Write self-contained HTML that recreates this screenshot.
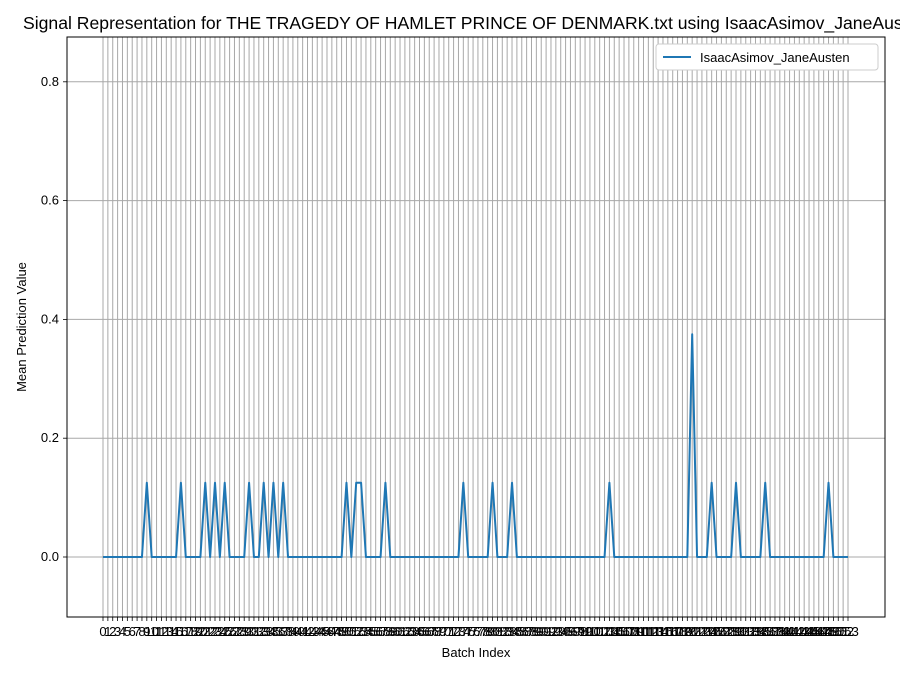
<!DOCTYPE html>
<html><head><meta charset="utf-8"><style>body{margin:0;background:#fff;overflow:hidden}svg{display:block;font-family:"Liberation Sans","DejaVu Sans",sans-serif}</style></head>
<body>
<svg id="chart" width="900" height="675" xmlns="http://www.w3.org/2000/svg">
<text x="23" y="29" font-size="17.6">Signal Representation for THE TRAGEDY OF HAMLET PRINCE OF DENMARK.txt using IsaacAsimov_JaneAusten</text>
<g id="grid"></g><g id="ticks"></g>
<g id="series"></g>
<rect x="67" y="37" width="818" height="580" fill="none" stroke="#000" stroke-width="1"/>
<text x="476" y="657" text-anchor="middle" font-size="13">Batch Index</text>
<text transform="translate(26,327) rotate(-90)" text-anchor="middle" font-size="13">Mean Prediction Value</text>
<g>
<rect x="656" y="44" width="222" height="26" rx="3" fill="#fff" stroke="#ccc"/>
<line x1="663" y1="57" x2="691" y2="57" stroke="#1f77b4" stroke-width="2"/>
<text x="700" y="62" font-size="13">IsaacAsimov_JaneAusten</text>
</g>
</svg>
<script>
const nPoints = 154;
const peakIdx = [9,16,21,23,25,30,33,35,37,50,52,53,58,74,80,84,104,121,125,130,136,149];
const peakVal = [0.125,0.125,0.125,0.125,0.125,0.125,0.125,0.125,0.125,0.125,0.125,0.125,0.125,0.125,0.125,0.125,0.125,0.375,0.125,0.125,0.125,0.125];
const yTicks = [0.0,0.2,0.4,0.6,0.8];
const yTickLabels = ["0.0","0.2","0.4","0.6","0.8"];
const values = new Array(nPoints).fill(0);
peakIdx.forEach((k,i)=>values[k]=peakVal[i]);
const NS="http://www.w3.org/2000/svg";
const x = i => 103 + i*(848-103)/(nPoints-1);
const y = v => 557 - v*594;
const grid=document.getElementById('grid'), ticks=document.getElementById('ticks'), series=document.getElementById('series');
function mk(tag,attrs,parent){const e=document.createElementNS(NS,tag);for(const k in attrs)e.setAttribute(k,attrs[k]);parent.appendChild(e);return e;}
for(let i=0;i<nPoints;i++){
  const g=mk('line',{x1:x(i),x2:x(i),y1:37,y2:617,stroke:'#a8a8a8','stroke-width':1},grid);
  
  
  const t=mk('line',{x1:x(i),x2:x(i),y1:617,y2:621,stroke:'#000','stroke-width':0.8},ticks);
  
  
  const l=mk('text',{x:x(i),y:636,'text-anchor':'middle','font-size':13},ticks);
  
  
  l.textContent=String(i);
}
yTicks.forEach((v,i)=>{
  const g=mk('line',{x1:67,x2:885,y1:y(v),y2:y(v),stroke:'#a8a8a8','stroke-width':1},grid);
  
  
  const t=mk('line',{x1:63,x2:67,y1:y(v),y2:y(v),stroke:'#000','stroke-width':0.8},ticks);
  
  
  const l=mk('text',{x:59,y:y(v)+4,'text-anchor':'end','font-size':13},ticks);
  
  
  l.textContent=yTickLabels[i];
});
const p=mk('polyline',{points:values.map((v,i)=>x(i)+','+y(v)).join(' '),fill:'none',stroke:'#1f77b4','stroke-width':2,'stroke-linejoin':'round'},series);


</script>
</body></html>
